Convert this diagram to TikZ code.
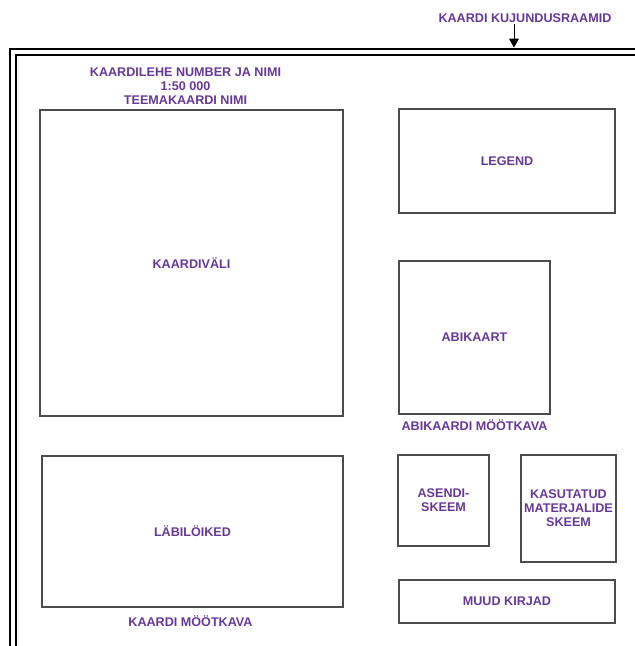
\documentclass[tikz,border=0pt]{standalone}
\usepackage{fontspec}
\setmainfont{Liberation Sans}
\usetikzlibrary{positioning,arrows.meta}
\definecolor{labelpurple}{RGB}{104,56,150}
\begin{document}
\begin{tikzpicture}[
  x=1pt, y=-1pt,
  field/.style={draw=black!70, line width=1.2pt, align=center, text=labelpurple, font=\bfseries\fontsize{12.6}{14}\selectfont, inner sep=0pt},
  caption/.style={align=center, text=labelpurple, font=\bfseries\fontsize{12.6}{14}\selectfont, inner sep=1pt},
  frame/.style={line width=2pt},
  arrow/.style={-{Triangle[width=10pt,length=9pt]}, line width=1pt}
]
\useasboundingbox (0,0) rectangle (635,646);
% kujundusraamid
\draw[frame] (9.5,646) |- (635,48.5);
\draw[frame] (16,646) |- (635,55);

% vasak pool
\node[field, minimum width=303pt, minimum height=306pt] (kaardivali) at (191.5,263) {KAARDIVÄLI};
\node[field, minimum width=301pt, minimum height=151pt] (labiloiked) at (192.5,531.5) {LÄBILÖIKED};
\node[caption, above=4pt of kaardivali, xshift=-6pt] (lehenimi) {KAARDILEHE NUMBER JA NIMI\\1:50 000\\TEEMAKAARDI NIMI};
\node[caption, below=7pt of labiloiked, xshift=-2pt] (moot) {KAARDI MÖÖTKAVA};

% parem pool
\node[field, minimum width=216pt, minimum height=104pt] (legend) at (507,161) {LEGEND};
\node[field, minimum width=151pt, minimum height=153pt] (abikaart) at (474.5,337.5) {ABIKAART};
\node[caption, below=4pt of abikaart] (abimoot) {ABIKAARDI MÖÖTKAVA};
\node[field, minimum width=91pt, minimum height=91pt] (asendi) at (443.5,500.5) {ASENDI-\\SKEEM};
\node[field, minimum width=95pt, minimum height=107pt] (materjalid) at (568.5,508.5) {KASUTATUD\\MATERJALIDE\\SKEEM};
\node[field, minimum width=216pt, minimum height=43pt] (kirjad) at (507,601.5) {MUUD KIRJAD};

% viide raamile
\node[caption] (kujundus) at (525,18) {KAARDI KUJUNDUSRAAMID};
\coordinate (raamipunkt) at (514,47.5);
\draw[arrow] (kujundus.south -| raamipunkt) -- (raamipunkt);
\end{tikzpicture}
\end{document}
